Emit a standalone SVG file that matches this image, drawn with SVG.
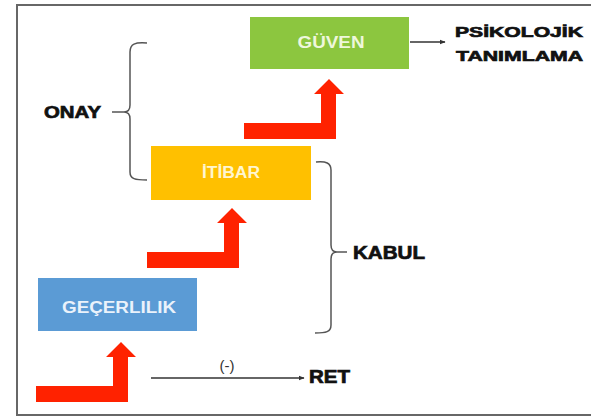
<svg xmlns="http://www.w3.org/2000/svg" width="591" height="417" viewBox="0 0 591 417">
  <defs>
    <style>
      .frame { fill: #ffffff; stroke: #676767; stroke-width: 2; }
      .box-label { font-family: "Liberation Sans", Arial, sans-serif; font-weight: bold; font-size: 16px; text-anchor: middle; }
      .label { font-family: "Liberation Sans", Arial, sans-serif; font-weight: bold; fill: #111111; stroke: #111111; stroke-width: 0.7; }
      .brace { fill: none; stroke: #555555; stroke-width: 1.5; }
      .link { fill: none; stroke: #333333; stroke-width: 1.3; }
      .step { fill: #ff2200; }
    </style>
    <!-- bent "step up" arrow: horizontal bar, then a shaft rising to a head -->
    <path id="step-arrow" d="M0,0 L77,0 L77,-29 L70,-29 L85,-44 L100,-29 L92,-29 L92,16 L0,16 Z"/>
    <marker id="head" viewBox="0 0 10 10" refX="9" refY="5" markerWidth="6" markerHeight="6" orient="auto" markerUnits="userSpaceOnUse">
      <path d="M0,1 L10,5 L0,9 Z" fill="#333333"/>
    </marker>
  </defs>

  <rect class="frame" x="17" y="5" width="590" height="410"/>

  <g id="connectors">
    <use href="#step-arrow" class="step" transform="translate(36,386)"/>
    <use href="#step-arrow" class="step" transform="translate(147,252)"/>
    <use href="#step-arrow" class="step" transform="translate(244,123)"/>
    <line class="link" x1="410" y1="42" x2="445" y2="42" marker-end="url(#head)"/>
    <line class="link" x1="151" y1="378" x2="304" y2="378" marker-end="url(#head)"/>
    <!-- brace grouping İTİBAR and GÜVEN -->
    <path class="brace" d="M147,43 C135,42 130,44 130,52 L130,105 C130,110 128,112 124,112 L112,112 M124,112 C128,112 130,114 130,119 L130,172 C130,179 135,180 147,180"/>
    <!-- brace grouping GEÇERLİLİK and İTİBAR -->
    <path class="brace" d="M316,162 C326,161 331,163 331,170 L331,245 C331,250 333,252 337,252 L347,252 M337,252 C333,252 331,254 331,259 L331,325 C331,332 326,333 315,333"/>
  </g>

  <g id="guven">
    <rect x="250" y="17" width="159" height="52" fill="#8cc63f"/>
    <text class="box-label" x="331" y="48" fill="#eef7dc" textLength="67" lengthAdjust="spacingAndGlyphs">GÜVEN</text>
  </g>

  <g id="itibar">
    <rect x="151" y="146" width="160" height="54" fill="#ffc000"/>
    <text class="box-label" x="231" y="178" fill="#fff6d0" textLength="58" lengthAdjust="spacingAndGlyphs">İTİBAR</text>
  </g>

  <g id="gecerlilik">
    <rect x="38" y="278" width="159" height="53" fill="#5b9bd5"/>
    <text class="box-label" x="119" y="313" fill="#eaf2fb" font-size="17" textLength="114" lengthAdjust="spacingAndGlyphs">GEÇERLILIK</text>
  </g>

  <g id="psikolojik">
    <text class="label" x="455" y="37" font-size="15" textLength="128" lengthAdjust="spacingAndGlyphs">PSİKOLOJİK</text>
    <text class="label" x="456" y="61" font-size="15" textLength="127" lengthAdjust="spacingAndGlyphs">TANIMLAMA</text>
  </g>

  <g id="onay">
    <text class="label" x="44" y="118" font-size="17" textLength="57" lengthAdjust="spacingAndGlyphs">ONAY</text>
  </g>

  <g id="kabul">
    <text class="label" x="353" y="259" font-size="18" textLength="72" lengthAdjust="spacingAndGlyphs">KABUL</text>
  </g>

  <g id="ret">
    <text class="label" x="309" y="383" font-size="18" textLength="41" lengthAdjust="spacingAndGlyphs">RET</text>
    <text x="227" y="371" font-family="'Liberation Sans', Arial, sans-serif" font-size="15" fill="#333333" text-anchor="middle">(-)</text>
  </g>
</svg>
